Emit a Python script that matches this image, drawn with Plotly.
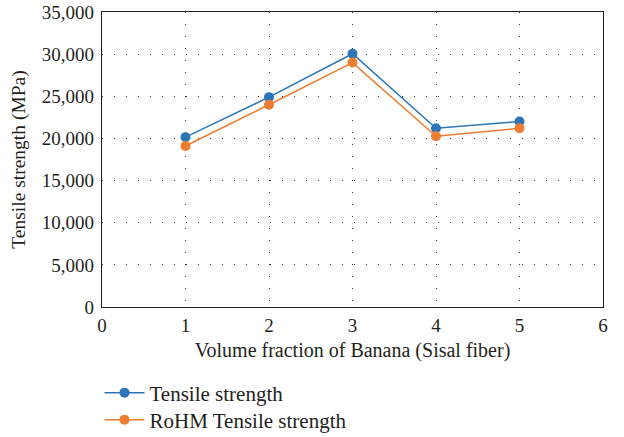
import plotly.graph_objects as go

x_vals = [1, 2, 3, 4, 5]
tensile = [20150, 24900, 30050, 21200, 22000]
rohm = [19100, 24000, 29000, 20250, 21200]
names = ["Tensile strength", "RoHM Tensile strength"]
colors = ["#2E75B6", "#ED7D31"]
legend_ids = ["legend", "legend2"]

FAM = "Liberation Serif, Times New Roman, serif"
TXT = "#231f20"

fig = go.Figure()
for y, n, c, lg in zip([tensile, rohm], names, colors, legend_ids):
    fig.add_trace(go.Scatter(x=x_vals, y=y, name=n, mode="lines+markers",
                             line=dict(color=c, width=1.5),
                             marker=dict(color=c, size=10), legend=lg))

leg_common = dict(orientation="v", x=-0.005, xanchor="left", yanchor="middle",
                  font=dict(family=FAM, size=21, color=TXT), itemwidth=40,
                  bgcolor="rgba(0,0,0,0)")
fig.update_layout(
    width=624, height=437,
    margin=dict(l=102, r=21, t=12, b=130, autoexpand=False),
    paper_bgcolor="white", plot_bgcolor="white",
    font=dict(family=FAM, size=18, color=TXT),
    showlegend=True,
    legend=dict(y=-0.2915, **leg_common),
    legend2=dict(y=-0.383, **leg_common),
)
fig.update_xaxes(range=[0, 6], dtick=1, tick0=0, showline=True, linecolor=TXT,
                 linewidth=1.2, mirror=True, showgrid=True, gridcolor="#333",
                 griddash="1px,11px", gridwidth=1, zeroline=False, ticks="",
                 automargin=False,
                 tickfont=dict(family=FAM, size=19, color=TXT), ticklabelstandoff=1,
                 title=dict(text="Volume fraction of Banana (Sisal fiber)", standoff=8,
                            font=dict(family=FAM, size=20, color=TXT)))
fig.update_yaxes(range=[0, 35000], dtick=5000, tickformat=",", showline=True,
                 linecolor=TXT, linewidth=1.2, mirror=True, showgrid=True,
                 gridcolor="#333", griddash="1px,11px", gridwidth=1, zeroline=False,
                 ticks="", automargin=False,
                 tickfont=dict(family=FAM, size=19, color=TXT), ticklabelstandoff=3,
                 title=dict(text="Tensile strength (MPa)", standoff=11,
                            font=dict(family=FAM, size=19.5, color=TXT)))

fig.write_html("out.html")
